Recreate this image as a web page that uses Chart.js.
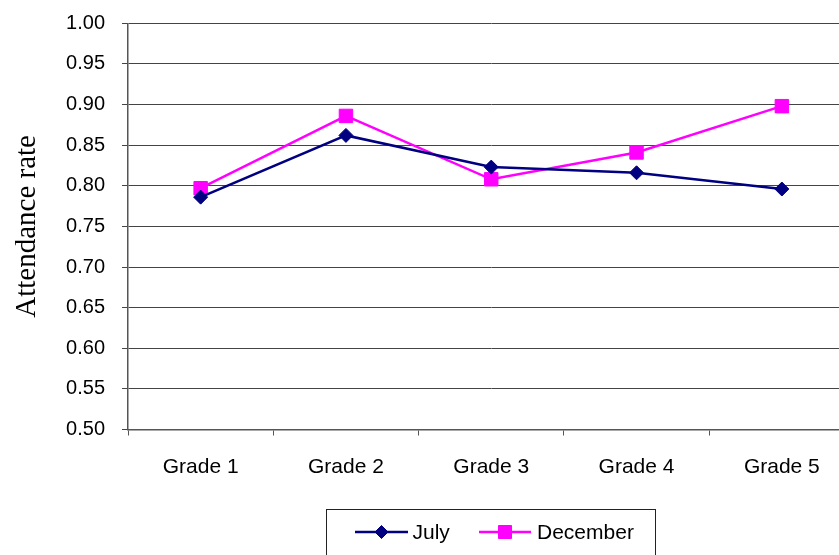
<!DOCTYPE html>
<html>
<head>
<meta charset="utf-8">
<style>
  html, body { margin: 0; padding: 0; background: #fff; overflow: hidden; }
  #wrap { width: 865px; height: 555px; }
</style>
<script src="https://cdn.jsdelivr.net/npm/chart.js@4.4.1/dist/chart.umd.min.js"></script>
</head>
<body>
<div id="wrap"><canvas id="chart" width="865" height="555"></canvas></div>
<script>
// Attendance rate by grade, July vs December
const grades = ['Grade 1', 'Grade 2', 'Grade 3', 'Grade 4', 'Grade 5'];
const july = [0.786, 0.862, 0.823, 0.816, 0.796];
const december = [0.797, 0.886, 0.808, 0.841, 0.898];
const yMin = 0.50;
const yMax = 1.00;
const yStep = 0.05;

const NAVY = '#000080';
const MAGENTA = '#FF00FF';
const SANS = '"Liberation Sans", Arial, sans-serif';
const SERIF = '"Liberation Serif", "Times New Roman", serif';

// Boxed legend below the plot: a line sample with its marker, then the name
const boxedLegend = {
  id: 'boxedLegend',
  afterDraw(chart) {
    const ctx = chart.ctx;
    ctx.save();
    ctx.strokeStyle = '#222';
    ctx.lineWidth = 1;
    ctx.strokeRect(326.5, 509.5, 329, 60);

    const cy = 532;
    const items = [
      { ds: chart.data.datasets[0], x0: 355, x1: 408, tx: 412.5 },
      { ds: chart.data.datasets[1], x0: 479, x1: 531, tx: 537 }
    ];
    items.forEach(it => {
      const ds = it.ds;
      ctx.strokeStyle = ds.borderColor;
      ctx.lineWidth = ds.borderWidth;
      ctx.beginPath();
      ctx.moveTo(it.x0, cy);
      ctx.lineTo(it.x1, cy);
      ctx.stroke();
      const mx = (it.x0 + it.x1) / 2;
      ctx.fillStyle = ds.pointBackgroundColor;
      ctx.strokeStyle = ds.pointBorderColor;
      ctx.lineWidth = 1;
      ctx.beginPath();
      if (ds.pointStyle === 'rectRot') {
        const r = 6.5;
        ctx.moveTo(mx, cy - r);
        ctx.lineTo(mx + r, cy);
        ctx.lineTo(mx, cy + r);
        ctx.lineTo(mx - r, cy);
        ctx.closePath();
      } else {
        const h = 6.5;
        ctx.rect(mx - h, cy - h, 2 * h, 2 * h);
      }
      ctx.fill();
      ctx.stroke();
      ctx.fillStyle = '#000';
      ctx.font = '21px ' + SANS;
      ctx.textBaseline = 'middle';
      ctx.textAlign = 'left';
      ctx.fillText(ds.label, it.tx, cy + 1);
    });
    ctx.restore();
  }
};

new Chart(document.getElementById('chart'), {
  type: 'line',
  data: {
    labels: grades,
    datasets: [
      {
        label: 'July',
        data: july,
        borderColor: NAVY,
        backgroundColor: NAVY,
        borderWidth: 2.5,
        pointStyle: 'rectRot',
        pointRadius: 7,
        pointHoverRadius: 7,
        pointBackgroundColor: NAVY,
        pointBorderColor: NAVY,
        pointBorderWidth: 1,
        tension: 0
      },
      {
        label: 'December',
        data: december,
        borderColor: MAGENTA,
        backgroundColor: MAGENTA,
        borderWidth: 2.5,
        pointStyle: 'rect',
        pointRadius: 9.5,
        pointHoverRadius: 9.5,
        pointBackgroundColor: MAGENTA,
        pointBorderColor: MAGENTA,
        pointBorderWidth: 1,
        tension: 0
      }
    ]
  },
  options: {
    responsive: false,
    animation: false,
    devicePixelRatio: 1,
    layout: { padding: { top: 23.3, right: 5.5, bottom: 0, left: 0 } },
    plugins: {
      legend: { display: false },
      tooltip: { enabled: false }
    },
    scales: {
      x: {
        offset: true,
        grid: {
          offset: true,
          drawOnChartArea: false,
          drawTicks: true,
          tickLength: 6,
          color: '#555',
          lineWidth: 1
        },
        border: { display: true, color: '#555', width: 1.5 },
        ticks: {
          color: '#000',
          font: { family: SANS, size: 21 },
          padding: 19,
          maxRotation: 0
        },
        afterFit(scale) {
          scale.height = 125.5;
          scale.paddingLeft = 0;
          scale.paddingRight = 0;
        }
      },
      y: {
        min: yMin,
        max: yMax,
        ticks: {
          stepSize: yStep,
          color: '#000',
          font: { family: SANS, size: 20 },
          padding: 17,
          callback: v => Number(v).toFixed(2)
        },
        grid: {
          color: '#444',
          lineWidth: 1,
          drawTicks: true,
          tickLength: 6
        },
        border: { display: true, color: '#555', width: 1.5 },
        title: {
          display: true,
          text: 'Attendance rate',
          color: '#000',
          font: { family: SERIF, size: 29 },
          padding: { top: 10, bottom: 0 }
        },
        afterFit(scale) {
          scale.width = 128;
          scale.paddingTop = 0;
          scale.paddingBottom = 0;
        }
      }
    }
  },
  plugins: [boxedLegend]
});
</script>
</body>
</html>
